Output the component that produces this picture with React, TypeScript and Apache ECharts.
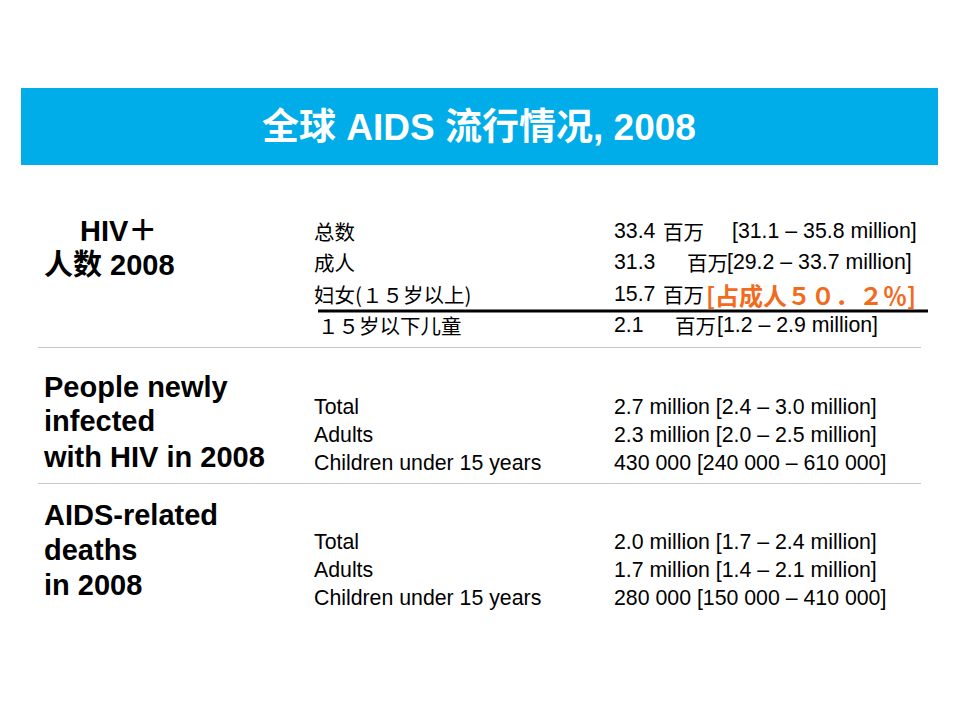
import React, { useEffect, useRef } from "react";
import * as echarts from "echarts";

const titleText = "全球 AIDS 流行情况, 2008";
const hivHeading = ["HIV＋", "人数 2008"];
const newHeading = ["People newly", "infected", "with HIV in 2008"];
const deathHeading = ["AIDS-related", "deaths", "in 2008"];
const hivLabels = ["总数", "成人", "妇女(１５岁以上)", "１５岁以下儿童"];
const hivValues = ["33.4", "31.3", "15.7", "2.1"];
const hivUnit = "百万";
const hivRanges = ["[31.1 – 35.8 million]", "[29.2 – 33.7 million]", "[占成人５０．２％]", "[1.2 – 2.9 million]"];
const rowLabels = ["Total", "Adults", "Children under 15 years"];
const newInfections = ["2.7 million [2.4 – 3.0 million]", "2.3 million [2.0 – 2.5 million]", "430 000 [240 000 – 610 000]"];
const deaths = ["2.0 million [1.7 – 2.4 million]", "1.7 million [1.4 – 2.1 million]", "280 000 [150 000 – 410 000]"];

const SANS = '"Liberation Sans", Arial, "Noto Sans CJK SC", sans-serif';
const CJK = '"Noto Sans CJK SC", "Liberation Sans", sans-serif';

export default function App() {
  const ref = useRef<HTMLDivElement>(null);
  useEffect(() => {
    if (!ref.current) return;
    const chart = echarts.init(ref.current, undefined, { renderer: "svg" });
    const els: any[] = [];
    const txt = (x: number, y: number, text: string, opts: any = {}) => {
      els.push({
        type: "text",
        x,
        y,
        style: {
          text,
          fill: opts.fill || "#000",
          font: `${opts.weight || "normal"} ${opts.size || 21}px ${opts.family || SANS}`,
          textAlign: opts.align || "left",
          textVerticalAlign: "middle",
        },
      });
    };
    // banner
    els.push({ type: "rect", shape: { x: 21, y: 88, width: 917, height: 77 }, style: { fill: "#00ADE8" } });
    txt(479, 127, titleText, { fill: "#fff", weight: "bold", size: 37, align: "center", family: SANS });

    // section 1
    txt(80, 231, hivHeading[0], { weight: "bold", size: 29 });
    txt(44, 265, hivHeading[1], { weight: "bold", size: 29 });
    const y1 = [231, 262, 294, 325];
    const unitX = [663, 687, 663, 675];
    const rangeX = [732, 727, 706, 717];
    hivLabels.forEach((l, i) => {
      txt(i === 3 ? 318 : 314, y1[i], l, { size: 20.5, family: CJK });
      txt(614, y1[i], hivValues[i], { size: 21.3 });
      txt(unitX[i], y1[i], hivUnit, { size: 20.5, family: CJK });
      if (i === 2) txt(rangeX[i], y1[i], hivRanges[i], { size: 24, weight: "bold", fill: "#F26B1D", family: CJK });
      else txt(rangeX[i], y1[i], hivRanges[i], { size: 21.3 });
    });
    els.push({ type: "line", shape: { x1: 318, y1: 311, x2: 928, y2: 311 }, style: { stroke: "#000", lineWidth: 3 } });
    els.push({ type: "line", shape: { x1: 38, y1: 347.5, x2: 921, y2: 347.5 }, style: { stroke: "#c8c8c8", lineWidth: 1 } });

    // section 2
    [387, 421, 457].forEach((y, i) => txt(44, y, newHeading[i], { weight: "bold", size: 29 }));
    [407, 435, 463].forEach((y, i) => {
      txt(314, y, rowLabels[i], { size: 21.3 });
      txt(614, y, newInfections[i], { size: 21.3 });
    });
    els.push({ type: "line", shape: { x1: 38, y1: 483.5, x2: 921, y2: 483.5 }, style: { stroke: "#c8c8c8", lineWidth: 1 } });

    // section 3
    [515, 550, 585].forEach((y, i) => txt(44, y, deathHeading[i], { weight: "bold", size: 29 }));
    [542, 570, 598].forEach((y, i) => {
      txt(314, y, rowLabels[i], { size: 21.3 });
      txt(614, y, deaths[i], { size: 21.3 });
    });

    chart.setOption({ animation: false, backgroundColor: "#fff", graphic: { elements: els } });
    return () => chart.dispose();
  }, []);
  return <div ref={ref} style={{ position: "fixed", left: 0, top: 0, width: 960, height: 720 }} />;
}
